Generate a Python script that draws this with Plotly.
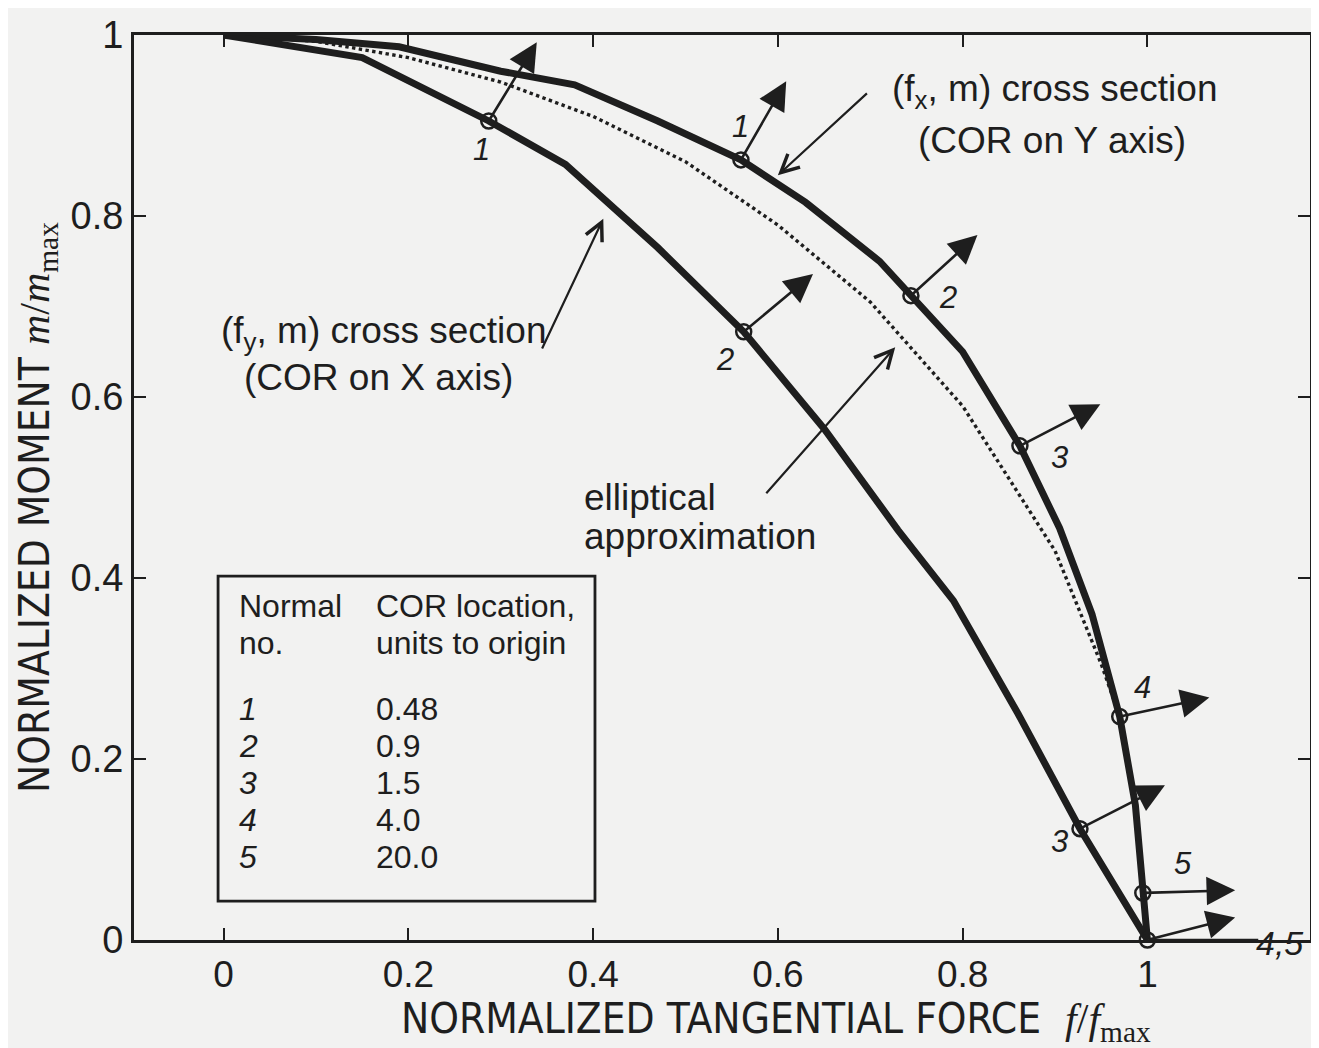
import plotly.graph_objects as go

# ---------------- data ----------------
# (fx, m) cross section (COR on Y axis) - outer thick curve
fx_force = [0.0, 0.10, 0.19, 0.30, 0.38, 0.47, 0.56, 0.63, 0.71, 0.745, 0.80, 0.862, 0.905, 0.94, 0.97, 0.987, 0.995, 1.0]
fx_moment = [1.0, 0.995, 0.987, 0.96, 0.945, 0.905, 0.862, 0.815, 0.75, 0.712, 0.65, 0.546, 0.455, 0.36, 0.247, 0.149, 0.052, 0.0]

# (fy, m) cross section (COR on X axis) - inner thick curve
fy_force = [0.0, 0.15, 0.287, 0.37, 0.47, 0.563, 0.65, 0.73, 0.79, 0.86, 0.927, 1.0]
fy_moment = [1.0, 0.975, 0.905, 0.857, 0.765, 0.672, 0.565, 0.453, 0.375, 0.25, 0.123, 0.0]

# elliptical approximation - dotted curve
ell_force = [0.0, 0.1, 0.2, 0.3, 0.4, 0.5, 0.6, 0.7, 0.8, 0.9, 0.95, 0.97]
ell_moment = [1.0, 0.993, 0.975, 0.948, 0.91, 0.86, 0.79, 0.705, 0.59, 0.43, 0.305, 0.247]

# normals on the (fx, m) curve: marker (tail) and arrow tip
fx_normal_no = ["1", "2", "3", "4", "5"]
fx_mark_f = [0.56, 0.744, 0.862, 0.97, 0.995]
fx_mark_m = [0.862, 0.712, 0.546, 0.247, 0.052]
fx_tip_f = [0.609, 0.816, 0.949, 1.067, 1.095]
fx_tip_m = [0.949, 0.779, 0.592, 0.268, 0.055]
fx_lab_f = [0.56, 0.784, 0.905, 0.995, 1.038]
fx_lab_m = [0.899, 0.71, 0.533, 0.279, 0.084]

# normals on the (fy, m) curve
fy_normal_no = ["1", "2", "3", "4", "5"]
fy_mark_f = [0.287, 0.563, 0.927, 1.0, 1.0]
fy_mark_m = [0.905, 0.672, 0.123, 0.0, 0.0]
fy_tip_f = [0.339, 0.638, 1.019, 1.095, 1.12]
fy_tip_m = [0.992, 0.736, 0.171, 0.025, 0.0]
fy_lab_text = ["1", "2", "3", "4,5"]
fy_lab_f = [0.279, 0.543, 0.905, 1.143]
fy_lab_m = [0.873, 0.641, 0.109, 0.0]

# table in the inset box
table_normal_no = ["1", "2", "3", "4", "5"]
table_cor_location = ["0.48", "0.9", "1.5", "4.0", "20.0"]

x_tick_vals = [0, 0.2, 0.4, 0.6, 0.8, 1.0]
x_tick_text = ["0", "0.2", "0.4", "0.6", "0.8", "1"]
y_tick_vals = [0, 0.2, 0.4, 0.6, 0.8, 1.0]
y_tick_text = ["0", "0.2", "0.4", "0.6", "0.8", "1"]

# ---------------- styling ----------------
INK = "#1e1e1e"
BG = "#f2f2f1"
SANS = "Liberation Sans, Arial, Helvetica, sans-serif"
NARROW = "Liberation Sans Narrow, DejaVu Sans Condensed, Arial Narrow, sans-serif"
SERIF_SPAN = "<span style='font-family:Liberation Serif,Times New Roman,serif'>"

fig = go.Figure()

fig.add_trace(go.Scatter(x=ell_force, y=ell_moment, mode="lines",
                         line=dict(color=INK, width=3.4, dash="dot"),
                         name="elliptical approximation", showlegend=False))
fig.add_trace(go.Scatter(x=fx_force, y=fx_moment, mode="lines",
                         line=dict(color=INK, width=7),
                         name="(fx, m) cross section", showlegend=False))
fig.add_trace(go.Scatter(x=fy_force, y=fy_moment, mode="lines",
                         line=dict(color=INK, width=7),
                         name="(fy, m) cross section", showlegend=False))
# markers (open circles) at the normals
fig.add_trace(go.Scatter(x=fx_mark_f, y=fx_mark_m, mode="markers", cliponaxis=False,
                         marker=dict(symbol="circle-open", size=15, color=INK, line=dict(width=2.5)),
                         showlegend=False))
fig.add_trace(go.Scatter(x=fy_mark_f[:4], y=fy_mark_m[:4], mode="markers", cliponaxis=False,
                         marker=dict(symbol="circle-open", size=15, color=INK, line=dict(width=2.5)),
                         showlegend=False))

annotations = []

# normal arrows
for tf, tm, hf, hm in zip(fx_mark_f, fx_mark_m, fx_tip_f, fx_tip_m):
    annotations.append(dict(x=hf, y=hm, ax=tf, ay=tm, xref="x", yref="y", axref="x", ayref="y",
                            text="", showarrow=True, arrowhead=2, arrowsize=2.2, arrowwidth=2.6,
                            arrowcolor=INK, standoff=0, startstandoff=0))
for i, (tf, tm, hf, hm) in enumerate(zip(fy_mark_f, fy_mark_m, fy_tip_f, fy_tip_m)):
    annotations.append(dict(x=hf, y=hm, ax=tf, ay=tm, xref="x", yref="y", axref="x", ayref="y",
                            text="", showarrow=True, arrowhead=2 if i < 4 else 0,
                            arrowsize=2.2, arrowwidth=2.6,
                            arrowcolor=INK, standoff=0, startstandoff=0))

# normal numbers
num_font = dict(family=SANS, size=31, color=INK)
for t, f, m in zip(fx_normal_no, fx_lab_f, fx_lab_m):
    annotations.append(dict(x=f, y=m, xref="x", yref="y", text="<i>%s</i>" % t, showarrow=False,
                            font=num_font))
for t, f, m in zip(fy_lab_text, fy_lab_f, fy_lab_m):
    annotations.append(dict(x=f, y=m, xref="x", yref="y", text="<i>%s</i>" % t, showarrow=False,
                            font=dict(family=SANS, size=34 if t == "4,5" else 31, color=INK),
                            yshift=-3 if t == "4,5" else 0))

# curve captions
txt_font = dict(family=SANS, size=37, color=INK)
annotations += [
    dict(x=0.899, y=0.938, xref="x", yref="y", text="(f<sub>x</sub>, m) cross section",
         showarrow=False, font=txt_font),
    dict(x=0.897, y=0.883, xref="x", yref="y", text="(COR on Y axis)", showarrow=False, font=txt_font),
    dict(x=0.173, y=0.671, xref="x", yref="y", text="(f<sub>y</sub>, m) cross section",
         showarrow=False, font=txt_font),
    dict(x=0.168, y=0.622, xref="x", yref="y", text="(COR on X axis)", showarrow=False, font=txt_font),
    dict(x=0.388, y=0.489, xref="x", yref="y", text="elliptical", showarrow=False, font=txt_font,
         xanchor="left"),
    dict(x=0.388, y=0.446, xref="x", yref="y", text="approximation", showarrow=False, font=txt_font,
         xanchor="left"),
]
# leader arrows (open heads)
for hf, hm, tf, tm in [(0.600, 0.845, 0.698, 0.937),
                       (0.411, 0.797, 0.344, 0.652),
                       (0.727, 0.655, 0.586, 0.492)]:
    annotations.append(dict(x=hf, y=hm, ax=tf, ay=tm, xref="x", yref="y", axref="x", ayref="y",
                            text="", showarrow=True, arrowhead=5, arrowsize=1.6, arrowwidth=2.2,
                            arrowcolor=INK, standoff=0))

# inset table
tab_font = dict(family=SANS, size=32, color=INK)
annotations += [
    dict(x=0.015, y=0.3696, xref="x", yref="y", text="Normal", showarrow=False, xanchor="left", font=tab_font),
    dict(x=0.015, y=0.328, xref="x", yref="y", text="no.", showarrow=False, xanchor="left", font=tab_font),
    dict(x=0.163, y=0.3696, xref="x", yref="y", text="COR location,", showarrow=False, xanchor="left", font=tab_font),
    dict(x=0.163, y=0.328, xref="x", yref="y", text="units to origin", showarrow=False, xanchor="left", font=tab_font),
]
row_y0, row_dy = 0.2554, 0.0408
for i, (n, v) in enumerate(zip(table_normal_no, table_cor_location)):
    yy = row_y0 - i * row_dy
    annotations.append(dict(x=0.015, y=yy, xref="x", yref="y", text="<i>%s</i>" % n, showarrow=False,
                            xanchor="left", font=tab_font))
    annotations.append(dict(x=0.163, y=yy, xref="x", yref="y", text=v, showarrow=False,
                            xanchor="left", font=tab_font))

# axis titles
annotations += [
    dict(x=0.2256, y=-0.089, xref="paper", yref="paper", xanchor="left", yanchor="middle",
         showarrow=False, font=dict(family=NARROW, size=42, color=INK),
         text="NORMALIZED TANGENTIAL FORCE\u00a0\u00a0" + SERIF_SPAN
              + "<i>f</i>/<i>f</i><sub>max</sub></span>"),
    dict(x=-0.082, y=0.478, xref="paper", yref="paper", xanchor="center", yanchor="middle",
         textangle=-90, showarrow=False, font=dict(family=NARROW, size=42, color=INK),
         text="NORMALIZED MOMENT\u00a0" + SERIF_SPAN + "<i>m</i>/<i>m</i><sub>max</sub></span>"),
]

shapes = [dict(type="rect", xref="x", yref="y", x0=-0.006, x1=0.402, y0=0.043, y1=0.402,
               line=dict(color=INK, width=2.8), fillcolor="rgba(0,0,0,0)", layer="above")]

# the page adds an 8px body margin, so the figure is 8px smaller and the top/left margins 8px tighter
fig.update_layout(
    width=1311, height=1040,
    margin=dict(l=126, r=6, t=12, b=108),
    paper_bgcolor=BG, plot_bgcolor=BG,
    showlegend=False,
    annotations=annotations,
    shapes=shapes,
    xaxis=dict(range=[-0.097, 1.176], tickvals=x_tick_vals, ticktext=x_tick_text,
               ticks="inside", ticklen=12, tickwidth=2, tickcolor=INK,
               showline=True, linecolor=INK, linewidth=3, mirror="ticks",
               showgrid=False, zeroline=False, ticklabeloverflow="allow",
               tickfont=dict(family=SANS, size=37, color=INK)),
    yaxis=dict(range=[0, 1.0], tickvals=y_tick_vals, ticktext=y_tick_text,
               ticks="inside", ticklen=12, tickwidth=2, tickcolor=INK,
               showline=True, linecolor=INK, linewidth=3, mirror="ticks",
               showgrid=False, zeroline=False, ticklabeloverflow="allow",
               tickfont=dict(family=SANS, size=38, color=INK)),
)

fig.write_html("out.html")
